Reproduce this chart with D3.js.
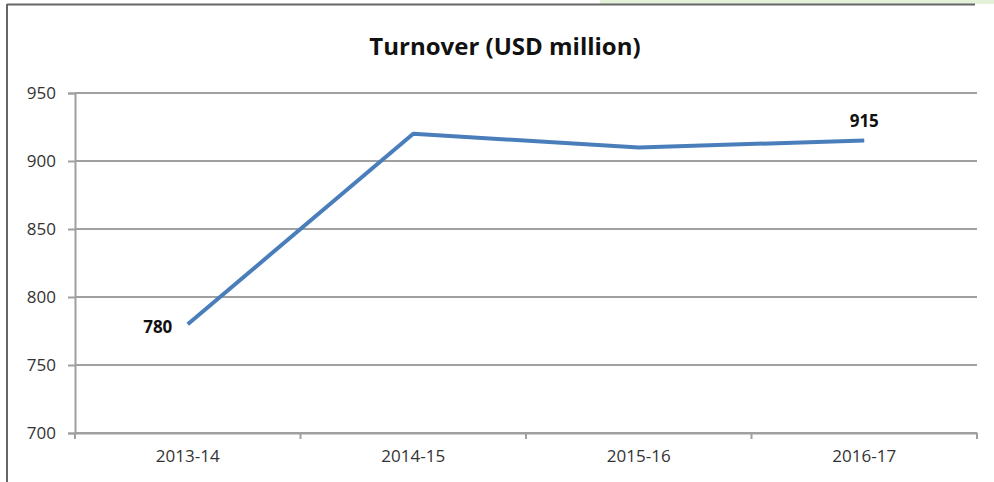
<!DOCTYPE html>
<html>
<head>
<meta charset="utf-8">
<script src="https://cdn.jsdelivr.net/npm/d3@7"></script>
<style>
  body { margin: 0; background: #fff; }
  svg, svg text { font-family: "Open Sans", "Noto Sans", sans-serif; }
  svg { display: block; }
</style>
</head>
<body>
<div id="chart"></div>
<script>
const years = ["2013-14", "2014-15", "2015-16", "2016-17"];
const turnover = [780, 920, 910, 915];
const yTicks = [700, 750, 800, 850, 900, 950];
const labelled = ["2013-14", "2016-17"];

const svg = d3.select("#chart").append("svg").attr("width", 994).attr("height", 482);
const margin = { top: 93, right: 17, bottom: 49, left: 75 };
const width = 994 - margin.left - margin.right;
const height = 482 - margin.top - margin.bottom;

// frame round the chart
svg.append("rect").attr("x", 600).attr("y", 0).attr("width", 394).attr("height", 4).attr("fill", "#e4f0d8");
svg.append("line").attr("x1", 7).attr("x2", 975).attr("y1", 4.5).attr("y2", 4.5).attr("stroke", "#666").attr("stroke-width", 2);
svg.append("line").attr("x1", 7).attr("x2", 7).attr("y1", 4).attr("y2", 482).attr("stroke", "#666").attr("stroke-width", 2);

const g = svg.append("g").attr("transform", `translate(${margin.left},${margin.top})`);

const x = d3.scaleBand().domain(years).range([0, width]);
const y = d3.scaleLinear().domain([700, 950]).range([height, 0]);

// gridlines + y axis
const yAxis = g.append("g")
    .call(d3.axisLeft(y).tickValues(yTicks).tickSize(7).tickPadding(12));
yAxis.attr("font-family", null);
yAxis.select(".domain").attr("stroke", "#a0a0a0").attr("stroke-width", 2);
yAxis.selectAll(".tick line").attr("stroke", "#a0a0a0").attr("stroke-width", 2);
yAxis.selectAll(".tick text").style("font-size", "17px").attr("fill", "#333");

g.append("g").selectAll("line")
    .data(yTicks)
    .enter().append("line")
    .attr("x1", 0).attr("x2", width)
    .attr("y1", d => y(d)).attr("y2", d => y(d))
    .attr("stroke", "#a0a0a0").attr("stroke-width", 2);

// x axis with ticks on band edges
const xAxis = g.append("g")
    .attr("transform", `translate(0,${height})`)
    .call(d3.axisBottom(x).tickSize(0).tickPadding(17));
xAxis.attr("font-family", null);
xAxis.select(".domain").attr("stroke", "#a0a0a0").attr("stroke-width", 2);
xAxis.selectAll(".tick text").style("font-size", "17px").attr("fill", "#333");
xAxis.selectAll(".edge")
    .data(d3.range(years.length + 1))
    .enter().append("line")
    .attr("x1", i => i * x.bandwidth()).attr("x2", i => i * x.bandwidth())
    .attr("y1", 0).attr("y2", 6)
    .attr("stroke", "#a0a0a0").attr("stroke-width", 2);

const cx = d => x(d) + x.bandwidth() / 2;

const line = d3.line()
    .x((d, i) => cx(years[i]))
    .y(d => y(d));

g.append("path")
    .datum(turnover)
    .attr("d", line)
    .attr("fill", "none")
    .attr("stroke", "#4a7ebb")
    .attr("stroke-width", 4)
    .attr("stroke-linejoin", "round");

// data labels
g.selectAll(".val")
    .data(years.map((d, i) => ({ year: d, v: turnover[i], i })).filter(d => labelled.includes(d.year)))
    .enter().append("text")
    .attr("class", "val")
    .attr("x", d => d.i === 0 ? cx(d.year) - 30 : cx(d.year))
    .attr("y", d => d.i === 0 ? y(d.v) + 9 : y(d.v) - 14)
    .attr("text-anchor", "middle")
    .style("font-size", "17px")
    .style("font-weight", "bold")
    .attr("fill", "#111")
    .text(d => d.v);

svg.append("text")
    .attr("x", 505).attr("y", 55)
    .attr("text-anchor", "middle")
    .style("font-size", "24px")
    .style("font-weight", "bold")
    .attr("fill", "#111")
    .text("Turnover (USD million)");
</script>
</body>
</html>
